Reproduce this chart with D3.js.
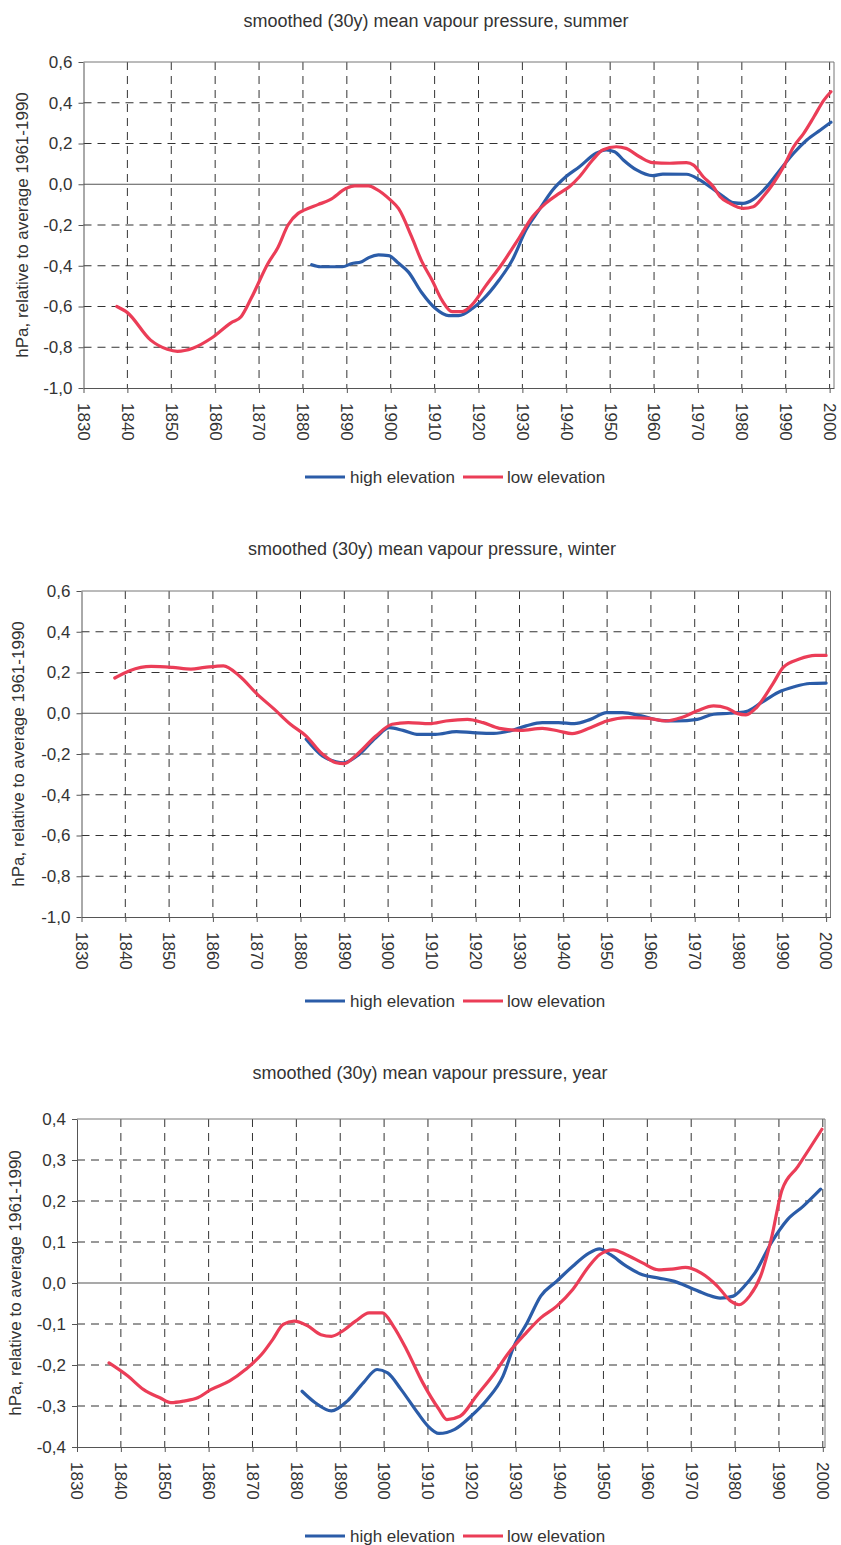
<!DOCTYPE html>
<html><head><meta charset="utf-8">
<script src="https://cdn.jsdelivr.net/npm/d3@7"></script>
<style>
html,body{margin:0;padding:0;background:#fff;}
svg text{font-family:"Liberation Sans",Arial,sans-serif;fill:#333;}
</style></head>
<body><svg id="c" width="841" height="1545"></svg>
<script>
// ---------- data ----------
const decades = [1830,1840,1850,1860,1870,1880,1890,1900,1910,1920,1930,1940,1950,1960,1970,1980,1990,2000];
const seriesNames = ["high elevation","low elevation"];
const seriesColors = ["#2b5ca8","#eb3d57"];
const yTicksA = [-1.0,-0.8,-0.6,-0.4,-0.2,0.0,0.2,0.4,0.6];
const yTicksB = [-0.4,-0.3,-0.2,-0.1,0.0,0.1,0.2,0.3,0.4];
const titles = ["smoothed (30y) mean vapour pressure, summer","smoothed (30y) mean vapour pressure, winter","smoothed (30y) mean vapour pressure, year"];
const yLabel = "hPa, relative to average 1961-1990";

const summerHigh = [[1882,-0.395],[1884,-0.405],[1889,-0.405],[1891,-0.39],[1893.4,-0.38],[1895,-0.36],[1897.2,-0.347],[1899.5,-0.35],[1901.8,-0.388],[1904,-0.43],[1907,-0.53],[1910.2,-0.61],[1913.2,-0.645],[1915.5,-0.645],[1918.6,-0.61],[1920.8,-0.57],[1924.7,-0.47],[1927.7,-0.372],[1930.8,-0.225],[1933.8,-0.126],[1936.9,-0.028],[1939.9,0.037],[1943,0.086],[1946.8,0.152],[1949.1,0.168],[1951,0.16],[1953,0.119],[1956,0.07],[1959.7,0.042],[1962,0.05],[1967.4,0.049],[1970.4,0.021],[1972.7,-0.012],[1975.8,-0.06],[1978,-0.09],[1980.3,-0.094],[1982.6,-0.074],[1985.7,-0.012],[1988.7,0.07],[1991.8,0.152],[1994.8,0.217],[1997.9,0.266],[2000.3,0.304]];
const summerLow = [[1837.6,-0.60],[1840,-0.63],[1845.3,-0.765],[1849.1,-0.81],[1851.4,-0.82],[1854.9,-0.805],[1859.1,-0.756],[1863.6,-0.68],[1865.9,-0.65],[1868.2,-0.56],[1872,-0.39],[1874.3,-0.31],[1876.6,-0.20],[1878.9,-0.143],[1880.4,-0.126],[1883.4,-0.10],[1886.1,-0.077],[1889.9,-0.02],[1891.8,-0.008],[1894.9,-0.008],[1896.8,-0.025],[1899.9,-0.077],[1901.8,-0.12],[1904.8,-0.26],[1907.1,-0.38],[1909.4,-0.47],[1911.7,-0.57],[1914,-0.625],[1916.3,-0.625],[1918.6,-0.59],[1921.6,-0.50],[1925.4,-0.39],[1929.2,-0.265],[1932.3,-0.16],[1935.3,-0.094],[1938.4,-0.045],[1940.7,-0.012],[1943,0.037],[1946,0.119],[1948.3,0.168],[1951.4,0.184],[1953.6,0.176],[1956.7,0.135],[1959.7,0.106],[1963.6,0.103],[1967.4,0.106],[1969,0.094],[1971.2,0.037],[1973.5,-0.012],[1975,-0.06],[1977.3,-0.094],[1980.3,-0.118],[1982.6,-0.11],[1984.9,-0.06],[1987.2,0.005],[1989.5,0.086],[1991.8,0.184],[1994.1,0.25],[1996.4,0.33],[1998.7,0.413],[2000.3,0.454]];

const winterHigh = [[1881.3,-0.128],[1885,-0.21],[1888.1,-0.238],[1889.9,-0.243],[1892.9,-0.21],[1897.2,-0.12],[1900.3,-0.071],[1903.4,-0.084],[1907,-0.104],[1910.8,-0.104],[1915.6,-0.09],[1919.3,-0.095],[1924.1,-0.099],[1927.8,-0.087],[1931.5,-0.062],[1935.2,-0.046],[1938.9,-0.046],[1942.5,-0.051],[1946.2,-0.03],[1949.9,0.003],[1953.5,0.003],[1957.8,-0.013],[1962.1,-0.035],[1965.8,-0.038],[1970.6,-0.03],[1974.3,-0.005],[1978,0.0],[1981.7,0.008],[1985.3,0.053],[1989,0.102],[1992.7,0.13],[1996.3,0.146],[2000,0.148]];
const winterLow = [[1837.6,0.173],[1841,0.209],[1845.9,0.23],[1850.8,0.225],[1855,0.217],[1858.1,0.225],[1862.4,0.233],[1866,0.184],[1870.1,0.094],[1874,0.02],[1877.7,-0.054],[1881.3,-0.112],[1885,-0.20],[1888.1,-0.243],[1889.9,-0.247],[1892.9,-0.202],[1897.2,-0.112],[1900.9,-0.054],[1904.6,-0.046],[1909.5,-0.051],[1913.2,-0.038],[1918.1,-0.03],[1921.7,-0.046],[1925.4,-0.074],[1930.3,-0.084],[1935.2,-0.074],[1938.9,-0.087],[1942,-0.10],[1946.2,-0.071],[1949.9,-0.038],[1954.7,-0.021],[1959.6,-0.025],[1963.3,-0.038],[1967,-0.021],[1970.6,0.012],[1974.3,0.036],[1977.4,0.025],[1979.8,-0.002],[1981.7,-0.008],[1984.1,0.028],[1987.8,0.143],[1990.2,0.225],[1993.9,0.266],[1997.5,0.284],[2000,0.284]];

const yearHigh = [[1881.3,-0.264],[1884.3,-0.292],[1888,-0.312],[1891.6,-0.288],[1895.3,-0.243],[1898.4,-0.211],[1900.8,-0.219],[1903.9,-0.26],[1907.6,-0.316],[1910,-0.349],[1912.5,-0.367],[1916.1,-0.357],[1919.8,-0.325],[1923.5,-0.284],[1927.1,-0.227],[1929.6,-0.154],[1932.6,-0.097],[1935.7,-0.032],[1939.3,0.004],[1943,0.041],[1946.7,0.073],[1949.1,0.083],[1951.6,0.069],[1955.2,0.041],[1958.9,0.02],[1962.6,0.012],[1966.2,0.004],[1969.9,-0.012],[1973.5,-0.028],[1976.6,-0.037],[1979.6,-0.032],[1982.1,-0.008],[1984.5,0.024],[1988.2,0.097],[1991.9,0.154],[1995.5,0.187],[1999.5,0.229]];
const yearLow = [[1837.3,-0.195],[1841.6,-0.227],[1845.2,-0.26],[1848.9,-0.28],[1851.4,-0.292],[1854.4,-0.288],[1857.5,-0.28],[1860.5,-0.26],[1864.8,-0.239],[1868.4,-0.211],[1872.1,-0.174],[1874.6,-0.138],[1877,-0.101],[1879.5,-0.093],[1882.5,-0.104],[1885.6,-0.126],[1888,-0.13],[1890.4,-0.118],[1893.5,-0.093],[1896.6,-0.073],[1899.6,-0.073],[1902.1,-0.105],[1905.1,-0.162],[1908.8,-0.243],[1912.5,-0.308],[1914.3,-0.333],[1917.3,-0.325],[1921,-0.276],[1924.7,-0.227],[1928.4,-0.17],[1932,-0.126],[1935.7,-0.085],[1939.3,-0.057],[1943,-0.016],[1946.7,0.041],[1949.1,0.069],[1952.2,0.081],[1955.2,0.069],[1958.9,0.049],[1962.6,0.032],[1965.6,0.034],[1968.7,0.038],[1972.3,0.024],[1976,-0.008],[1979.1,-0.045],[1980.9,-0.053],[1983.3,-0.032],[1985.8,0.016],[1988.2,0.105],[1990.7,0.227],[1994.3,0.284],[1996.8,0.325],[1999.8,0.375]];

// ---------- layout ----------
const panels = [
  {title:titles[0], high:summerHigh, low:summerLow, ticks:yTicksA, left:83.5, right:834, xMax:2001, top:62, bottom:388, titleY:27, titleX:436, legendY:477, yLabX:28},
  {title:titles[1], high:winterHigh, low:winterLow, ticks:yTicksA, left:81.5, right:830.5, xMax:2001, top:591, bottom:917, titleY:555, titleX:432, legendY:1001, yLabX:24},
  {title:titles[2], high:yearHigh, low:yearLow, ticks:yTicksB, left:77, right:825, xMax:2000.5, top:1119, bottom:1447, titleY:1079, titleX:430, legendY:1536, yLabX:21}
];

const svg = d3.select("#c");
const fmt = v => d3.format(".1f")(v).replace(".", ",").replace("\u2212","-");

panels.forEach(p => {
  const g = svg.append("g");
  const x = d3.scaleLinear().domain([1830, p.xMax]).range([p.left, p.right]);
  const yMin = d3.min(p.ticks), yMax = d3.max(p.ticks);
  const y = d3.scaleLinear().domain([yMin, yMax]).range([p.bottom, p.top]);

  // horizontal dashed grid
  g.append("g").selectAll("line").data(p.ticks.filter(v => v !== 0 && v !== yMin && v !== yMax)).join("line")
    .attr("x1", p.left).attr("x2", p.right).attr("y1", d => y(d)).attr("y2", d => y(d))
    .attr("stroke", "#333").attr("stroke-width", 1).attr("stroke-dasharray", "8,6");
  // vertical dashed grid
  g.append("g").selectAll("line").data(decades.filter(d => d > 1830)).join("line")
    .attr("x1", d => x(d)).attr("x2", d => x(d)).attr("y1", p.top).attr("y2", p.bottom)
    .attr("stroke", "#333").attr("stroke-width", 1).attr("stroke-dasharray", "8,6");
  // zero line
  g.append("line").attr("x1", p.left).attr("x2", p.right).attr("y1", y(0)).attr("y2", y(0))
    .attr("stroke", "#555").attr("stroke-width", 1.2);
  // plot frame (top & right)
  g.append("path").attr("d", `M${p.left},${p.top}H${p.right}V${p.bottom}`)
    .attr("fill", "none").attr("stroke", "#777").attr("stroke-width", 1);

  // y axis
  const ya = g.append("g").attr("transform", `translate(${p.left},0)`)
    .call(d3.axisLeft(y).tickValues(p.ticks).tickFormat(fmt).tickSize(5).tickSizeOuter(0).tickPadding(6));
  ya.select(".domain").attr("stroke", "#555");
  ya.selectAll(".tick line").attr("stroke", "#555");
  ya.selectAll("text").attr("font-size", 17).attr("fill", "#333").style("font-family", "'Liberation Sans', Arial, sans-serif");

  // x axis
  const xa = g.append("g").attr("transform", `translate(0,${p.bottom})`)
    .call(d3.axisBottom(x).tickValues(decades).tickFormat(d3.format("d")).tickSize(5).tickSizeOuter(0));
  xa.select(".domain").attr("stroke", "#555");
  xa.selectAll(".tick line").attr("stroke", "#555");
  xa.selectAll("text").attr("font-size", 17).attr("fill", "#333")
    .style("font-family", "'Liberation Sans', Arial, sans-serif")
    .attr("transform", "rotate(90)").attr("text-anchor", "start")
    .attr("x", 15).attr("y", 0).attr("dy", "0.36em");

  // lines
  const line = d3.line().x(d => x(d[0])).y(d => y(d[1])).curve(d3.curveMonotoneX);
  [p.high, p.low].forEach((s, i) => {
    g.append("path").datum(s).attr("d", line).attr("fill", "none")
      .attr("stroke", seriesColors[i]).attr("stroke-width", 3.2)
      .attr("stroke-linejoin", "round").attr("stroke-linecap", "round");
  });

  // title
  g.append("text").attr("x", p.titleX).attr("y", p.titleY).attr("text-anchor", "middle")
    .attr("font-size", 18).text(p.title);
  // y label
  g.append("text").attr("transform", `translate(${p.yLabX},${(p.top + p.bottom) / 2}) rotate(-90)`)
    .attr("text-anchor", "middle").attr("font-size", 17).text(yLabel);

  // legend
  const lg = g.append("g").attr("transform", `translate(0,${p.legendY})`);
  const items = [{x0: 305, tx: 350}, {x0: 463, tx: 507}];
  items.forEach((it, i) => {
    lg.append("line").attr("x1", it.x0).attr("x2", it.x0 + 40).attr("y1", 0).attr("y2", 0)
      .attr("stroke", seriesColors[i]).attr("stroke-width", 3.2);
    lg.append("text").attr("x", it.tx).attr("y", 6).attr("font-size", 17).text(seriesNames[i]);
  });
});
</script></body></html>
